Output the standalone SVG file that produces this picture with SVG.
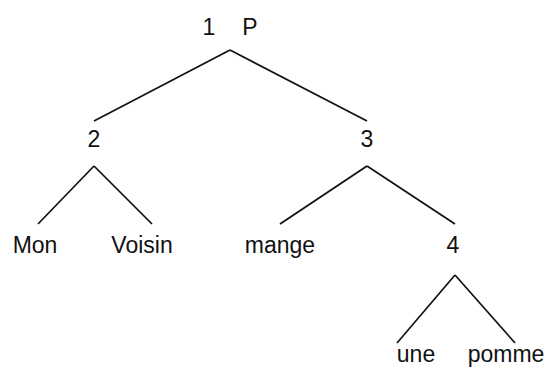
<svg xmlns="http://www.w3.org/2000/svg" width="559" height="370" viewBox="0 0 559 370">
<style>
text{font-family:"Liberation Sans",Arial,sans-serif;font-size:23px;fill:#111;text-anchor:middle}
line{stroke:#111;stroke-width:1.7}
</style>
<rect width="559" height="370" fill="#fff"/>
<g id="connectors">
<line x1="230" y1="50" x2="94" y2="121"/>
<line x1="230" y1="50" x2="367" y2="121"/>
<line x1="94" y1="166" x2="38" y2="224"/>
<line x1="94" y1="166" x2="152" y2="224"/>
<line x1="367" y1="166" x2="280" y2="224"/>
<line x1="367" y1="166" x2="455" y2="224"/>
<line x1="455" y1="275" x2="397" y2="343"/>
<line x1="455" y1="275" x2="515" y2="343"/>
</g>
<g id="n1"><text x="209" y="35">1</text><text x="250" y="35">P</text></g>
<g id="n2"><text x="94" y="147">2</text></g>
<g id="n3"><text x="367" y="147">3</text></g>
<g id="mon"><text x="35" y="253">Mon</text></g>
<g id="voisin"><text x="142" y="253">Voisin</text></g>
<g id="mange"><text x="280" y="253">mange</text></g>
<g id="n4"><text x="453" y="253">4</text></g>
<g id="une"><text x="416" y="362">une</text></g>
<g id="pomme"><text x="506" y="362">pomme</text></g>
</svg>
